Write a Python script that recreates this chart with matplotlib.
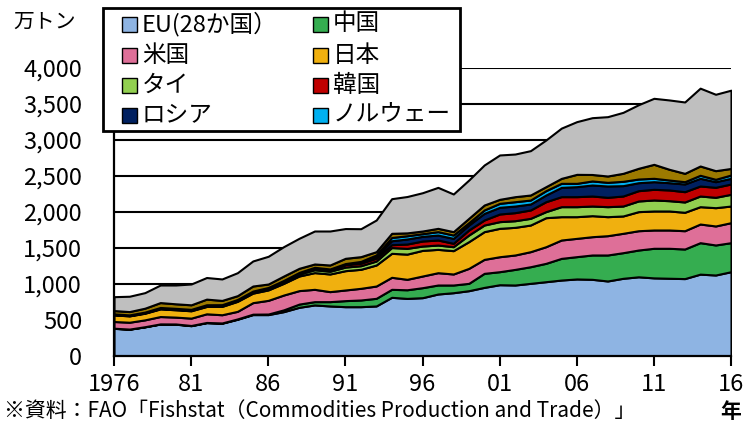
import matplotlib
matplotlib.use("Agg")
import matplotlib.pyplot as plt
from matplotlib.patches import Rectangle
import numpy as np

plt.rcParams["font.family"] = ["Noto Sans CJK JP", "DejaVu Sans"]

# 水産物輸入量（万トン）1976〜2016年
years = list(range(1976, 2017))
eu = [384, 372, 405, 444, 442, 421, 463, 455, 510,
      575, 575, 616, 676, 709, 695, 685, 685, 695, 815, 800,
      810, 861, 879, 907, 953, 990, 986, 1009, 1032, 1055, 1070,
      1065, 1042, 1079, 1100, 1085, 1080, 1075, 1137, 1125, 1171]
china = [2, 2, 2, 2, 3, 3, 3, 4, 5,
         6, 8, 25, 45, 46, 60, 84, 93, 106, 111, 120,
         139, 125, 107, 102, 195, 181, 217, 231, 255, 301, 310,
         338, 361, 356, 372, 411, 416, 411, 437, 417, 403]
usa = [93, 95, 95, 102, 95, 102, 120, 114, 105,
       160, 190, 206, 187, 171, 139, 148, 162, 171, 167, 145,
       162, 171, 153, 208, 194, 208, 200, 209, 231, 255, 254,
       254, 268, 269, 268, 254, 254, 254, 259, 264, 278]
japan = [92, 88, 92, 106, 102, 102, 102, 116, 139,
         132, 145, 162, 203, 232, 245, 268, 264, 292, 333, 350,
         356, 324, 324, 371, 385, 394, 384, 370, 403, 324, 301,
         292, 264, 241, 265, 264, 264, 256, 241, 254, 231]
thailand = [5, 5, 6, 8, 8, 8, 10, 10, 12,
            15, 18, 22, 28, 40, 38, 50, 50, 55, 80, 80,
            60, 60, 55, 92, 92, 93, 92, 93, 84, 139, 139,
            134, 139, 138, 148, 153, 143, 143, 148, 144, 163]
korea = [3, 3, 4, 5, 5, 5, 6, 6, 6,
         6, 8, 10, 12, 20, 20, 35, 35, 40, 40, 60,
         70, 70, 47, 70, 70, 106, 112, 116, 138, 139, 139,
         139, 130, 139, 143, 148, 149, 143, 139, 139, 143]
russia = [2, 2, 2, 2, 2, 2, 2, 2, 2,
          2, 2, 2, 2, 2, 2, 2, 10, 25, 55, 70,
          65, 69, 69, 69, 92, 93, 92, 83, 93, 129, 139,
          153, 157, 144, 111, 106, 101, 107, 107, 78, 79]
norway = [4, 4, 4, 5, 5, 5, 6, 6, 6,
          6, 6, 7, 8, 12, 10, 12, 15, 20, 45, 45,
          37, 47, 46, 33, 47, 55, 60, 55, 60, 56, 46,
          56, 51, 60, 51, 47, 37, 32, 42, 33, 46]
other_a = [46, 46, 54, 68, 63, 63, 78, 59, 53,
           70, 48, 61, 57, 46, 55, 73, 66, 45, 58, 40,
           37, 46, 47, 60, 69, 56, 70, 70, 56, 69, 125,
           90, 88, 111, 149, 194, 149, 116, 129, 120, 91]
other_b = [193, 213, 216, 244, 261, 289, 300, 298, 319,
           348, 385, 408, 417, 458, 472, 413, 388, 440, 481, 505,
           532, 569, 523, 532, 556, 616, 592, 616, 648, 698, 732,
           789, 824, 847, 883, 917, 963, 991, 1081, 1061, 1087]

labels = ["EU(28か国）", "中国", "米国", "日本", "タイ", "韓国", "ロシア", "ノルウェー"]
colors = ["#8EB4E3", "#35AD50", "#DE6F98", "#F0B00F", "#92D050",
          "#C00000", "#002060", "#00B0F0", "#9C7A00", "#BFBFBF"]

xtick_years = [1976, 1981, 1986, 1991, 1996, 2001, 2006, 2011, 2016]
xtick_labels = ["1976", "81", "86", "91", "96", "01", "06", "11", "16"]
yticks = list(range(0, 4001, 500))

W, H = 745, 426


def fx(px):
    return px / W


def fy(py):
    return 1 - py / H


fig = plt.figure(figsize=(W / 100, H / 100), dpi=100)
ax = fig.add_axes([fx(114), fy(356), fx(731 - 114), (356 - 68) / H])

ax.stackplot(years, eu, china, usa, japan, thailand, korea, russia, norway,
             other_a, other_b, colors=colors, edgecolor="black", linewidth=1.5,
             zorder=2)

ax.set_xlim(1976, 2016)
ax.set_ylim(0, 4000)
ax.set_yticks(yticks)
ax.set_yticklabels([f"{v:,}" for v in yticks], fontsize=17)
ax.set_xticks(xtick_years)
ax.set_xticklabels(xtick_labels, fontsize=17)
ax.tick_params(axis="y", length=0, pad=23)
ax.tick_params(axis="x", length=7, width=1.5, direction="out", pad=5)

ax.yaxis.grid(True, color="black", linewidth=1.5)
ax.set_axisbelow(True)
for side in ("top", "right"):
    ax.spines[side].set_visible(False)
for side in ("left", "bottom"):
    ax.spines[side].set_linewidth(1.6)
    ax.spines[side].set_color("black")

# 凡例（2列×4行）
fig.add_artist(Rectangle((fx(103), fy(131)), fx(460 - 103), (131 - 8) / H,
                         transform=fig.transFigure, facecolor="white",
                         edgecolor="black", linewidth=2, zorder=5))
col_x = [122, 313]
row_y = [24, 55, 85, 115]
sq = 15
for k, (lab, col) in enumerate(zip(labels, colors[:8])):
    cx = col_x[k % 2]
    cy = row_y[k // 2]
    fig.add_artist(Rectangle((fx(cx), fy(cy + sq / 2)), fx(sq), sq / H,
                             transform=fig.transFigure, facecolor=col,
                             edgecolor="black", linewidth=1.0, zorder=6))
    fig.text(fx(cx + sq + 5), fy(cy), lab, ha="left", va="center",
             fontsize=17, zorder=7)

fig.text(fx(45), fy(22), "万トン", ha="center", va="center", fontsize=15)
fig.text(fx(731), fy(411), "年", ha="center", va="center", fontsize=15,
         fontweight="bold")
fig.text(fx(4), fy(411),
         "※資料：FAO「Fishstat（Commodities Production and Trade）」",
         ha="left", va="center", fontsize=15)

fig.savefig("out.png", dpi=100)
